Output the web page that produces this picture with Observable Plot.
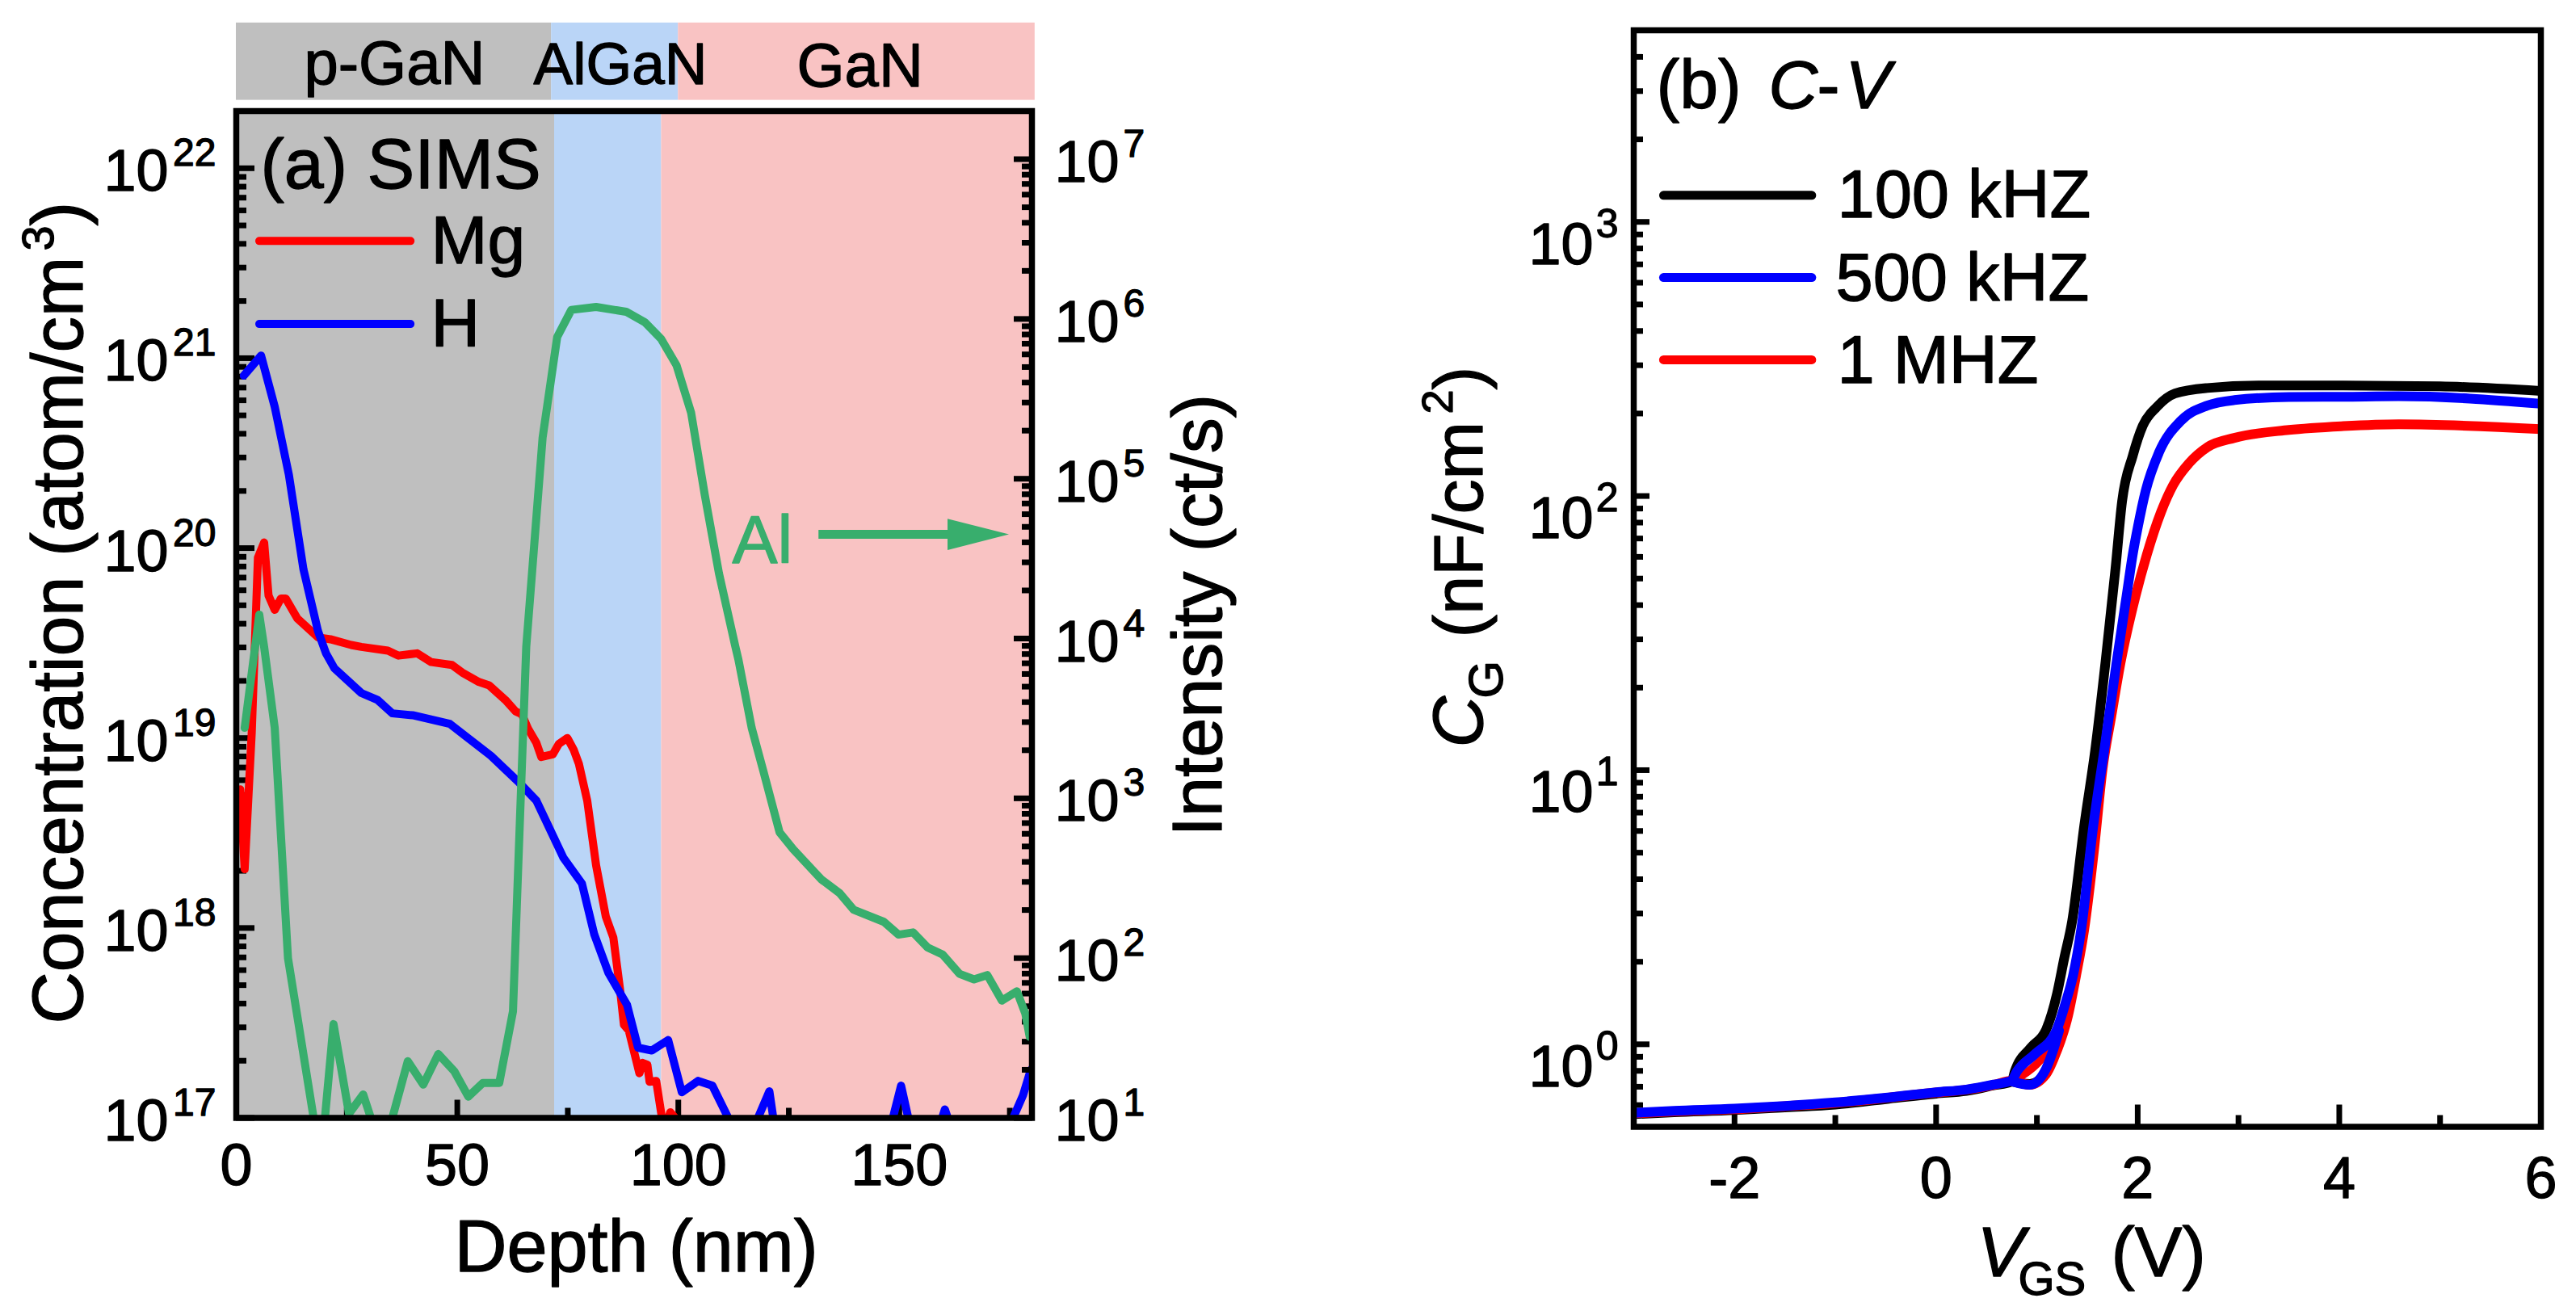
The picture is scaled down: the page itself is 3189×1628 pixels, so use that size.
<!DOCTYPE html>
<html><head><meta charset="utf-8">
<script src="https://cdn.jsdelivr.net/npm/d3@7"></script>
<script src="https://cdn.jsdelivr.net/npm/@observablehq/plot@0.6"></script>
<style>
html,body{margin:0;padding:0;background:#fff}
#page{position:relative;width:3189px;height:1628px;overflow:hidden;background:#fff}
#page svg{position:absolute;left:0;top:0;background:transparent;overflow:visible}
</style></head><body><div id="page"></div>
<script>
// ---------- Panel (a): values are depth (nm) and log10 of the quantity ----------
const mgDepth=[0.9,1.9,3.5,4.9,6.3,7.3,8.7,10.1,11.2,13.8,18.5,21.3,26,28.3,34.3,36.7,40.9,44.1,48.8,51.1,54.9,57.2,60.9,63.2,64.6,66,67.9,69,71.6,73,74.9,76.3,77.5,79.4,81.4,83.6,85.3,86.8,87.7,88.8,91.2,91.9,93,93.5,95,96.3,97.2,98.2,99.3,100];
const mgLog=[18.73,18.31,19.03,19.95,20.03,19.75,19.675,19.735,19.735,19.63,19.53,19.52,19.49,19.48,19.46,19.434,19.446,19.40,19.385,19.345,19.295,19.277,19.2,19.14,19.125,19.05,18.974,18.90,18.914,18.97,19.00,18.94,18.865,18.67,18.33,18.06,17.95,17.68,17.49,17.46,17.235,17.29,17.28,17.19,17.195,17.0,16.96,17.03,17.0,16.9];
const hDepth=[1.7,5.6,8.7,11.9,15.2,18.5,20.3,22.2,28.3,32,35.3,39.9,48.3,52,57.6,63.7,67.9,74,78.2,81,84.2,88.4,90.9,94,97.7,100.8,104.5,107.7,111.3,111.8,117.1,120.6,121.8,148,150.4,152.5,159,160.3,161.7,174.8,178,179.5,180];
const hLog=[20.908,21.014,20.744,20.386,19.888,19.562,19.446,19.367,19.237,19.2,19.13,19.12,19.075,19.008,18.907,18.772,18.67,18.37,18.234,17.965,17.763,17.595,17.37,17.355,17.41,17.135,17.195,17.17,17.0,16.95,16.95,17.14,16.95,16.95,17.17,16.95,16.95,17.045,16.95,16.95,17.12,17.235,17.26];
const alDepth=[1.9,5.2,6.3,8.7,11.7,17.5,18.5,19.4,22,25.5,28.7,30.6,32,34.3,35.3,38.8,42.3,45.7,49.3,52.5,55.8,59.5,62.6,64.4,65.6,69.3,72.6,75.8,81.4,88.2,92.4,96.1,99.6,102.9,106,109.2,112.9,113.6,116.6,119.2,122.9,126,132.3,136.5,139.7,146.5,149.8,153.1,156.4,159.8,163.6,166.9,169.9,173.2,176.6,178.5,179.5];
const alLog=[3.441,4.15,3.948,3.441,2.0,1.0,0.8,0.8,1.587,1.027,1.147,0.987,0.8,0.8,1.0,1.355,1.208,1.4,1.293,1.133,1.219,1.219,1.667,3.04,3.948,5.257,5.887,6.057,6.075,6.045,5.98,5.876,5.71,5.413,4.897,4.408,3.95,3.868,3.441,3.175,2.788,2.681,2.494,2.406,2.302,2.227,2.147,2.161,2.067,2.022,1.902,1.867,1.894,1.734,1.792,1.654,1.507];
const regionEdges=[0,72,96.2,180], regionColors=["#BFBFBF","#BAD5F7","#F9C3C3"];
const bandEdges=[0,71.3,100,180.7];
const depthMajor=[0,50,100,150], depthMinor=[25,75,125,175];
const concDecades=[17,18,19,20,21,22], intensDecades=[1,2,3,4,5,6,7];

// ---------- Panel (b): gate voltage (V) and log10 of capacitance ----------
const vMain100=[-3,-2.6,-2,-1.5,-1,-0.5,0,0.3,0.57,0.75,0.78,0.94,1.09,1.2,1.27,1.35,1.47,1.58,1.68,1.78,1.845,1.952,2.05,2.19,2.37,2.69,3.23,4.04,5,6];
const cMain100=[-0.255,-0.248,-0.24,-0.23,-0.22,-0.2,-0.18,-0.17,-0.15,-0.136,-0.10,-0.012,0.052,0.185,0.312,0.45,0.798,1.077,1.392,1.736,1.98,2.148,2.256,2.325,2.374,2.394,2.403,2.403,2.40,2.383];
const vBack100=[0.75,0.93,1.09,1.17,1.25];
const cBack100=[-0.136,-0.145,-0.10,-0.03,0.1];
const vMain500=[-3,-2.6,-2,-1.5,-1,-0.5,0,0.3,0.57,0.75,0.8,0.98,1.19,1.28,1.36,1.44,1.56,1.67,1.79,1.89,1.95,2.0,2.08,2.21,2.43,2.69,2.96,3.5,4.04,4.59,6];
const cMain500=[-0.25,-0.243,-0.235,-0.225,-0.212,-0.195,-0.175,-0.165,-0.147,-0.132,-0.10,-0.036,0.047,0.146,0.253,0.42,0.798,1.077,1.392,1.637,1.785,1.884,2.02,2.158,2.275,2.33,2.35,2.361,2.362,2.364,2.337];
const vBack500=[0.75,0.93,1.09,1.17,1.22];
const cBack500=[-0.135,-0.148,-0.09,-0.012,0.05];
const vMain1M=[-3,-2.6,-2,-1.5,-1,-0.5,0,0.3,0.57,0.75,0.93,1.09,1.17,1.31,1.39,1.47,1.57,1.65,1.74,1.83,1.98,2.09,2.232,2.352,2.51,2.69,2.96,3.5,4.04,4.59,6];
const cMain1M=[-0.252,-0.245,-0.237,-0.226,-0.214,-0.196,-0.176,-0.166,-0.148,-0.133,-0.148,-0.11,-0.05,0.106,0.253,0.42,0.72,1.0,1.2,1.392,1.637,1.785,1.942,2.04,2.12,2.178,2.212,2.241,2.255,2.262,2.244];
const vBack1M=[0.75,0.85,1.03,1.15];
const cBack1M=[-0.136,-0.115,-0.06,0.0];
const vMajor=[-2,0,2,4,6], vMinor=[-1,1,3,5];
const capDecades=[0,1,2,3];

const seriesColors={mg:"#FF0000",h:"#0000FF",al:"#38AE6D",f100:"#000000",f500:"#0000FF",f1M:"#FF0000"};
const font="Liberation Sans";
const heavy=1.3;

const zip=(xs,logs)=>xs.map((x,i)=>({x,y:10**logs[i]}));
const minorsOf=(decades,extra=[])=>decades.slice(0,-1).flatMap(e=>[2,3,4,5,6,7,8,9].map(m=>m*10**e)).concat(extra);
const majorsOf=decades=>decades.map(e=>10**e);
const W=3189,H=1628;
const page=document.getElementById("page");
const add=p=>page.appendChild(p);
const base=(m)=>({width:W,height:H,marginLeft:m[0],marginTop:m[1],marginRight:W-m[2],marginBottom:H-m[3],style:{fontFamily:font,background:"transparent",color:"#000",overflow:"visible"}});
const lineOpts=(stroke,w,curve)=>({x:"x",y:"y",stroke,strokeWidth:w,clip:true,strokeLinejoin:"round",strokeLinecap:"round",...(curve?{curve}:{})});
const TICK=7;
const textInk=(fill="#000")=>({fill,stroke:fill,strokeWidth:heavy});

function decadeLabels(decades,{xAt,baseDx,supDx,anchor,baseDy,supDy,fontSize=72,supSize=48}){
  return [
    Plot.text(decades,{x:()=>xAt,y:d=>10**d,text:()=>"10",dx:baseDx,dy:baseDy,textAnchor:anchor,lineAnchor:"bottom",fontSize,fontFamily:font,...textInk()}),
    Plot.text(decades,{x:()=>xAt,y:d=>10**d,text:d=>String(d),dx:supDx,dy:supDy,textAnchor:anchor,lineAnchor:"bottom",fontSize:supSize,fontFamily:font,...textInk()})
  ];
}
function xLabels(values,pad,yAt){
  return Plot.text(values,{x:d=>d,y:()=>yAt,text:d=>String(d),dy:pad,textAnchor:"middle",lineAnchor:"bottom",fontSize:72,fontFamily:font,...textInk()});
}

// Panel (a), concentration scale
const concM=[292,137,1277,1383.5];
add(Plot.plot({...base(concM),
  x:{domain:[0,180]},
  y:{type:"log",domain:[1e17,2e22]},
  marks:[
    Plot.rect(regionColors,{x1:(d,i)=>regionEdges[i],x2:(d,i)=>regionEdges[i+1],y1:()=>1e17,y2:()=>2e22,fill:d=>d}),
    Plot.rect(regionColors,{x1:(d,i)=>bandEdges[i],x2:(d,i)=>bandEdges[i+1],y1:()=>2.28e22,y2:()=>5.82e22,fill:d=>d}),
    Plot.axisY(majorsOf(concDecades),{anchor:"left",tickSize:-23,strokeWidth:TICK,fill:"none",label:null}),
    Plot.axisY(minorsOf(concDecades),{anchor:"left",tickSize:-13,strokeWidth:TICK,fill:"none",label:null}),
    Plot.axisX(depthMajor,{anchor:"bottom",tickSize:-22,strokeWidth:TICK,fill:"none",label:null}),
    Plot.axisX(depthMinor,{anchor:"bottom",tickSize:-12,strokeWidth:TICK,fill:"none",label:null}),
    xLabels(depthMajor,82.5,1e17),
    ...decadeLabels(concDecades,{xAt:0,baseDx:-84,supDx:-25,anchor:"end",baseDy:28,supDy:-3}),
    Plot.line(zip(mgDepth,mgLog),lineOpts(seriesColors.mg,10)),
    Plot.line(zip(hDepth,hLog),lineOpts(seriesColors.h,10)),
    Plot.ruleY([10**21.617],{x1:()=>5.3,x2:()=>39.5,stroke:seriesColors.mg,strokeWidth:10,strokeLinecap:"round"}),
    Plot.ruleY([10**21.18],{x1:()=>5.3,x2:()=>39.5,stroke:seriesColors.h,strokeWidth:10,strokeLinecap:"round"})
  ]}));

// Panel (a), intensity scale (green Al curve)
const arrowHead=[{x:160.9,y:10**4.75},{x:174.8,y:10**4.652},{x:160.9,y:10**4.554}];
add(Plot.plot({...base(concM),
  x:{domain:[0,180],axis:null},
  y:{type:"log",domain:[10,2e7]},
  marks:[
    Plot.axisY(majorsOf(intensDecades),{anchor:"right",tickSize:-23,strokeWidth:TICK,fill:"none",label:null}),
    Plot.axisY(minorsOf(intensDecades),{anchor:"right",tickSize:-13,strokeWidth:TICK,fill:"none",label:null}),
    ...decadeLabels(intensDecades,{xAt:180,baseDx:28,supDx:113,anchor:"start",baseDy:28,supDy:-3}),
    Plot.line(zip(alDepth,alLog),lineOpts(seriesColors.al,10)),
    Plot.ruleY([10**4.652],{x1:()=>131.8,x2:()=>161,stroke:seriesColors.al,strokeWidth:11}),
    Plot.line(arrowHead,{x:"x",y:"y",fill:seriesColors.al,stroke:"none"}),
    Plot.frame({stroke:"#000",strokeWidth:7.5})
  ]}));

// Panel (b)
const capM=[2022,37,3145,1394.5];
const smooth="monotone-x";
add(Plot.plot({...base(capM),
  x:{domain:[-3,6]},
  y:{type:"log",domain:[0.5,5000]},
  marks:[
    Plot.axisY(majorsOf(capDecades),{anchor:"left",tickSize:-20,strokeWidth:TICK,fill:"none",label:null}),
    Plot.axisY(minorsOf(capDecades,[0.6,0.7,0.8,0.9,2000,3000,4000]),{anchor:"left",tickSize:-12,strokeWidth:TICK,fill:"none",label:null}),
    Plot.axisX(vMajor,{anchor:"bottom",tickSize:-27,strokeWidth:TICK,fill:"none",label:null}),
    Plot.axisX(vMinor,{anchor:"bottom",tickSize:-14,strokeWidth:TICK,fill:"none",label:null}),
    xLabels(vMajor,88,0.5),
    ...decadeLabels(capDecades,{xAt:-3,baseDx:-50,supDx:-19,anchor:"end",baseDy:52,supDy:19,supSize:50}),
    Plot.line(zip(vMain100,cMain100),lineOpts(seriesColors.f100,12,smooth)),
    Plot.line(zip(vBack100,cBack100),lineOpts(seriesColors.f100,12,smooth)),
    Plot.line(zip(vMain1M,cMain1M),lineOpts(seriesColors.f1M,12,smooth)),
    Plot.line(zip(vBack1M,cBack1M),lineOpts(seriesColors.f1M,10,smooth)),
    Plot.line(zip(vMain500,cMain500),lineOpts(seriesColors.f500,12,smooth)),
    Plot.line(zip(vBack500,cBack500),lineOpts(seriesColors.f500,12,smooth)),
    Plot.ruleY([10**3.097],{x1:()=>-2.70,x2:()=>-1.23,stroke:seriesColors.f100,strokeWidth:11,strokeLinecap:"round"}),
    Plot.ruleY([10**2.797],{x1:()=>-2.70,x2:()=>-1.23,stroke:seriesColors.f500,strokeWidth:11,strokeLinecap:"round"}),
    Plot.ruleY([10**2.497],{x1:()=>-2.70,x2:()=>-1.23,stroke:seriesColors.f1M,strokeWidth:11,strokeLinecap:"round"}),
    Plot.frame({stroke:"#000",strokeWidth:7.5})
  ]}));

// Text annotations
const T=(t,px,py,size,o={})=>Plot.text([t],{text:d=>d,frameAnchor:"top-left",dx:px,dy:py,textAnchor:"start",lineAnchor:"bottom",fontSize:size,fontFamily:font,...textInk(o.fill||"#000"),...o});
const R=(t,px,py,size,o={})=>T(t,px,py,size,{rotate:-90,...o});
add(Plot.plot({width:W,height:H,margin:0,style:{fontFamily:font,background:"transparent",overflow:"visible"},
  marks:[
    T("p-GaN",376,103.6,76),T("AlGaN",660,103.6,73),T("GaN",986,106,76),
    T("(a) SIMS",322,232,88),T("Mg",533,325.5,84),T("H",533,428.6,84),
    T("Al",906,696,84,{fill:seriesColors.al}),
    T("Depth (nm)",562,1573.5,90),
    R("Concentration (atom/cm",101,1267,89),R("3",65,310,56),R(")",101,279,89),
    R("Intensity (ct/s)",1511,1035,88),
    T("(b)",2050,133.7,86),T("C",2189,133.7,84,{fontStyle:"italic"}),T("-",2249,133.7,84),T("V",2284,133.7,84,{fontStyle:"italic"}),
    T("100 kHZ",2274,268,83),T("500 kHZ",2272,371,83),T("1 MHZ",2274,473.5,83),
    R("C",1834,925,88,{fontStyle:"italic"}),R("G",1859,864,60),R("(nF/cm",1834,789,86),R("2",1797,512,54),R(")",1834,482,86),
    T("V",2447,1579,88,{fontStyle:"italic"}),T("GS",2498,1602.5,58),T("(V)",2613,1579,88)
  ]}));
</script></body></html>
